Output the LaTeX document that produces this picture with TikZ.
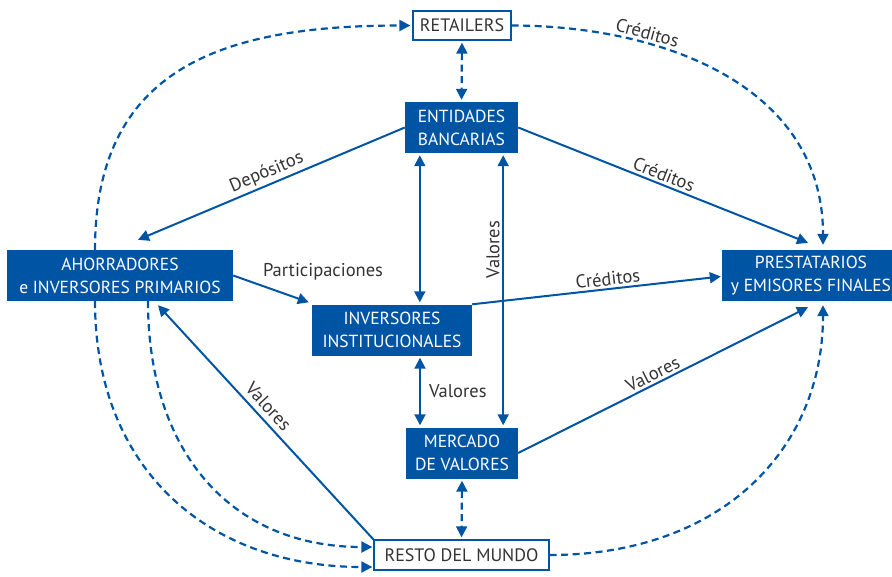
\documentclass[tikz,border=0pt]{standalone}
\usepackage{fontspec}
\setmainfont{PT Sans}
\usetikzlibrary{arrows.meta,calc}
\definecolor{flowblue}{RGB}{0,84,164}
\definecolor{txtgray}{RGB}{51,51,51}
\begin{document}
\begin{tikzpicture}[x=1pt,y=-1pt,
  >={Triangle[length=11pt,width=11pt]},
  sector/.style={fill=flowblue,text=white,inner sep=0pt,align=center,
    font=\fontsize{17.5}{23}\selectfont},
  outer/.style={draw=flowblue,line width=1.3pt,fill=white,text=txtgray,
    inner sep=0pt,align=center,font=\fontsize{18}{20}\selectfont},
  flow/.style={draw=flowblue,line width=2pt},
  link/.style={draw=flowblue,line width=2.2pt,dash pattern=on 7pt off 4.5pt},
  lbl/.style={text=txtgray,font=\fontsize{18.5}{20}\selectfont,inner sep=2.5pt}
]
\useasboundingbox (0,0) rectangle (892,576);

% sectors and external agents
\node[outer, minimum width=98pt, minimum height=29pt] (ret) at (462,25.5) {RETAILERS};
\node[sector, minimum width=113pt, minimum height=51pt] (ent) at (461.5,127.5) {ENTIDADES\\BANCARIAS};
\node[sector, minimum width=226pt, minimum height=51pt] (aho) at (120,275.5) {AHORRADORES\\e INVERSORES PRIMARIOS};
\node[sector, minimum width=178pt, minimum height=51pt] (pre) at (811,275.5) {PRESTATARIOS\\y EMISORES FINALES};
\node[sector, minimum width=160pt, minimum height=51pt] (inv) at (392,330) {INVERSORES\\INSTITUCIONALES};
\node[sector, minimum width=112pt, minimum height=51pt] (mer) at (462,453) {MERCADO\\DE VALORES};
\node[outer, minimum width=175pt, minimum height=30pt] (res) at (461.5,555) {RESTO DEL MUNDO};

% dashed links with retailers and the rest of the world
\draw[link,->,shorten >=2pt] ($(aho.north)+(-25,0)$) .. controls ($(aho.north)+(-25,-180)$) and ($(ret.west)+(-193,0)$) .. (ret.west);
\draw[link,->,shorten >=1pt] ($(aho.south)+(-25,0)$) .. controls ($(aho.south)+(-25,169)$) and ($(res.west)+(-164,12)$) .. ($(res.west)+(0,12)$);
\draw[link,->,shorten >=1pt] ($(aho.south)+(28,0)$) .. controls ($(aho.south)+(28,149)$) and ($(res.west)+(-144,-8)$) .. ($(res.west)+(0,-8)$);
\draw[link,->] (ret.east) .. controls ($(ret.east)+(149,0)$) and ($(pre.north)+(12,-165)$) .. ($(pre.north)+(12,-5)$)
  node[lbl,pos=0.3,sloped,above] {Créditos};
\draw[link,->] (res.east) .. controls ($(res.east)+(171,0)$) and ($(pre.south)+(12,149)$) .. ($(pre.south)+(12,4)$);
\draw[link,<->,shorten <=2pt,shorten >=2pt] (ret.south) -- (ent.north);
\draw[link,<->,shorten <=2pt,shorten >=2pt] (mer.south) -- (res.north);

% solid flows
\draw[flow,<-] ($(aho.north)+(18,-10)$) -- (ent.west) node[lbl,pos=0.5,sloped,above] {Depósitos};
\draw[flow,->] (ent.east) -- ($(pre.north)+(-3,-7)$) node[lbl,pos=0.49,sloped,above] {Créditos};
\draw[flow,->] (aho.east) -- ($(inv.north west)+(-3,-2)$) node[lbl,pos=0.5,xshift=52pt,yshift=17pt] {Participaciones};
\draw[flow,<->] ($(ent.south west)+(15,2)$) -- ($(inv.north -| ent.south west)+(15,-2)$);
\draw[flow,<->] ($(ent.south east)+(-15,2)$) -- ($(mer.north -| ent.south east)+(-15,-2)$)
  node[lbl,pos=0.35,rotate=90,above] {Valores};
\draw[flow,<->] ($(inv.south)+(28,2)$) -- ($(mer.north -| inv.south)+(28,-2)$)
  node[lbl,midway,right,inner sep=8pt] {Valores};
\draw[flow,->] (inv.north east) -- ($(pre.west)+(-1,1)$) node[lbl,pos=0.55,sloped,above] {Créditos};
\draw[flow,->] (mer.east) -- ($(pre.south)+(-3,6)$) node[lbl,pos=0.48,sloped,above] {Valores};
\draw[flow,<-] ($(aho.south)+(38,4)$) -- (res.north west) node[lbl,pos=0.47,sloped,above,inner sep=5pt] {Valores};
\end{tikzpicture}
\end{document}
